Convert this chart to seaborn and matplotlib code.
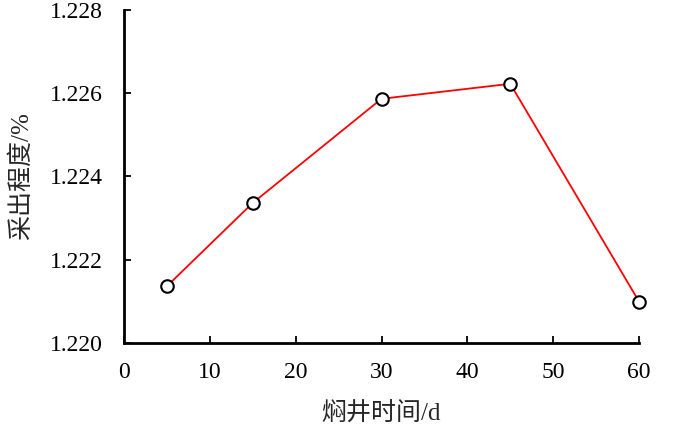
import matplotlib
matplotlib.use("Agg")
import matplotlib.pyplot as plt
import seaborn as sns
import pandas as pd

# data
soak_days = [5, 15, 30, 45, 60]
recovery = [1.22136, 1.22336, 1.22586, 1.22622, 1.22099]
x_ticks = [0, 10, 20, 30, 40, 50, 60]
y_ticks = [1.220, 1.222, 1.224, 1.226, 1.228]

df = pd.DataFrame({"days": soak_days, "recovery": recovery})

sns.set_style("white")
plt.rcParams['font.family'] = ['Liberation Serif', 'Noto Sans CJK SC']

fig, ax = plt.subplots(figsize=(7, 4.38), dpi=100)
fig.subplots_adjust(left=0.177, right=0.913, bottom=0.217, top=0.978)

sns.lineplot(data=df, x="days", y="recovery", ax=ax, color="red", linewidth=1.3,
             marker="o", markersize=9, markerfacecolor="white",
             markeredgecolor="black", markeredgewidth=1.5, clip_on=False)

ax.set_xlim(0, 60)
ax.set_ylim(1.220, 1.228)
ax.set_xticks(x_ticks)
ax.set_yticks(y_ticks)
ax.set_yticklabels([f"{v:.3f}" for v in y_ticks])

for side in ["top", "right"]:
    ax.spines[side].set_visible(False)
for side in ["left", "bottom"]:
    ax.spines[side].set_linewidth(2)
    ax.spines[side].set_color("black")

ax.tick_params(bottom=True, left=True, direction="in", length=5, width=1.3,
               labelsize=17, colors="black")
ax.tick_params(axis="x", pad=14)
ax.tick_params(axis="y", pad=15)

ax.set_xlabel("焖井时间/d", fontsize=18, labelpad=14)
ax.set_ylabel("采出程度/%", fontsize=18, labelpad=12)

fig.savefig("out.png", dpi=100)
